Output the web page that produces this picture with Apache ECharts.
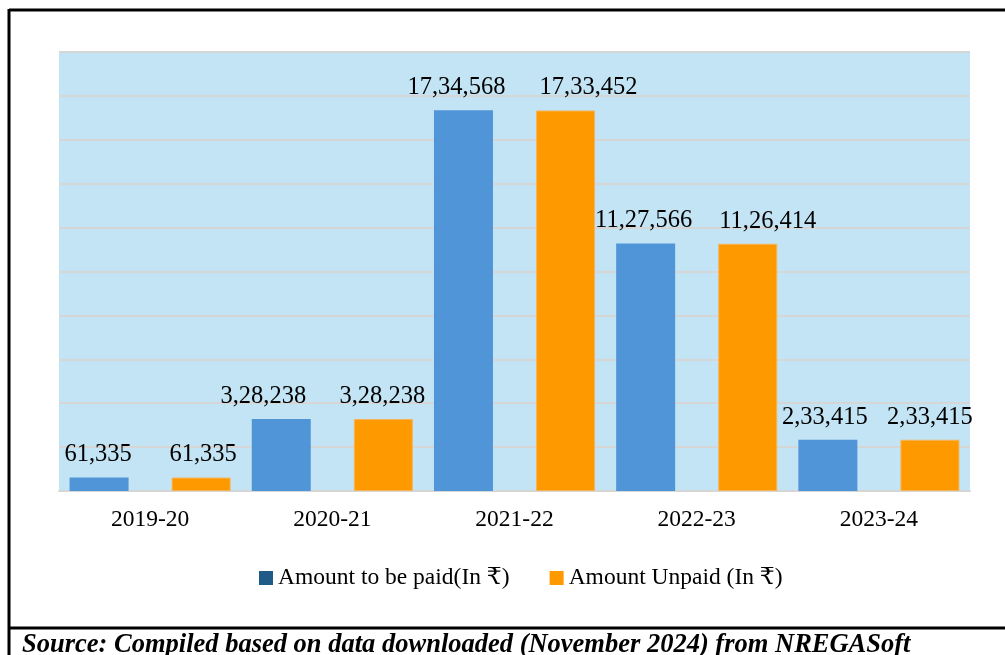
<!DOCTYPE html>
<html>
<head>
<meta charset="utf-8">
<style>
  html, body { margin: 0; padding: 0; background: #ffffff; }
  #chart { width: 1005px; height: 655px; }
</style>
<script src="https://cdn.jsdelivr.net/npm/echarts@6/dist/echarts.min.js"></script>
</head>
<body>
<div id="chart"></div>
<script>
// Financial years on the x axis
const years = ['2019-20', '2020-21', '2021-22', '2022-23', '2023-24'];
// Amounts in rupees
const amountToBePaid = [61335, 328238, 1734568, 1127566, 233415];
const amountUnpaid = [61335, 328238, 1733452, 1126414, 233415];
const seriesNames = ['Amount to be paid(In ₹)', 'Amount Unpaid (In ₹)'];
const sourceNote = 'Source: Compiled based on data downloaded (November 2024) from NREGASoft';

const serif = '"Liberation Serif", "Times New Roman", "DejaVu Serif", serif';

// Indian digit grouping: 17,34,568
function indianFormat(n) {
  const s = String(Math.round(n));
  if (s.length <= 3) return s;
  const last3 = s.slice(-3);
  let rest = s.slice(0, -3);
  const parts = [];
  while (rest.length > 2) {
    parts.unshift(rest.slice(-2));
    rest = rest.slice(0, -2);
  }
  if (rest.length) parts.unshift(rest);
  return parts.join(',') + ',' + last3;
}

const labelStyle = {
  show: true,
  position: 'top',
  distance: 10,
  color: '#000000',
  fontFamily: serif,
  fontSize: 24.5,
  formatter: p => indianFormat(p.value)
};

// horizontal nudges for value labels that were hand-placed apart
const paidLabelNudge = [-1, -18, -7, -2, -3];
const unpaidLabelNudge = [2, -1, 23, 20, 0];

function withNudges(values, nudges) {
  return values.map((v, i) => ({ value: v, label: { offset: [nudges[i], 0] } }));
}

const chart = echarts.init(document.getElementById('chart'), null, { renderer: 'canvas' });

chart.setOption({
  animation: false,
  backgroundColor: '#ffffff',
  title: {
    text: sourceNote,
    left: 17,
    top: 627,
    textStyle: {
      fontFamily: serif,
      fontSize: 26.5,
      fontStyle: 'italic',
      fontWeight: 'bold',
      color: '#000000'
    }
  },
  grid: {
    left: 59,
    right: 35,
    top: 52,
    bottom: 164,
    show: true,
    backgroundColor: '#c2e4f4',
    borderWidth: 0
  },
  legend: {
    top: 561,
    left: 254,
    itemWidth: 14,
    itemHeight: 14,
    itemGap: 40,
    icon: 'rect',
    textStyle: { fontFamily: serif, fontSize: 23.5, color: '#000000' },
    data: [
      { name: seriesNames[0], itemStyle: { color: '#1f5b86', borderWidth: 0 } },
      { name: seriesNames[1], itemStyle: { color: '#ff9900', borderWidth: 0 } }
    ]
  },
  xAxis: {
    type: 'category',
    data: years,
    axisLine: { show: true, lineStyle: { color: '#d6d6d6', width: 2 } },
    axisTick: { show: false },
    axisLabel: { color: '#000000', fontFamily: serif, fontSize: 23.5, margin: 17 }
  },
  yAxis: {
    type: 'value',
    min: 0,
    max: 2000000,
    interval: 200000,
    axisLabel: { show: false },
    axisLine: { show: false },
    axisTick: { show: false },
    splitLine: { show: true, lineStyle: { color: '#d6d6d6', width: 2 } }
  },
  series: [
    {
      name: seriesNames[0],
      type: 'bar',
      data: withNudges(amountToBePaid, paidLabelNudge),
      barWidth: 59,
      barGap: '73%',
      itemStyle: { color: '#5095d8' },
      label: labelStyle
    },
    {
      name: seriesNames[1],
      type: 'bar',
      data: withNudges(amountUnpaid, unpaidLabelNudge),
      barWidth: 59,
      barGap: '73%',
      itemStyle: { color: '#ff9900', borderColor: '#f5b45a', borderWidth: 1 },
      label: labelStyle
    }
  ],
  graphic: [
    // frame around the figure
    { type: 'line', shape: { x1: 9, y1: 10, x2: 1005, y2: 10 }, style: { stroke: '#000', lineWidth: 3 } },
    { type: 'line', shape: { x1: 9, y1: 9, x2: 9, y2: 655 }, style: { stroke: '#000', lineWidth: 3 } },
    { type: 'line', shape: { x1: 9, y1: 628, x2: 1005, y2: 628 }, style: { stroke: '#000', lineWidth: 3 } }
  ]
});
</script>
</body>
</html>
